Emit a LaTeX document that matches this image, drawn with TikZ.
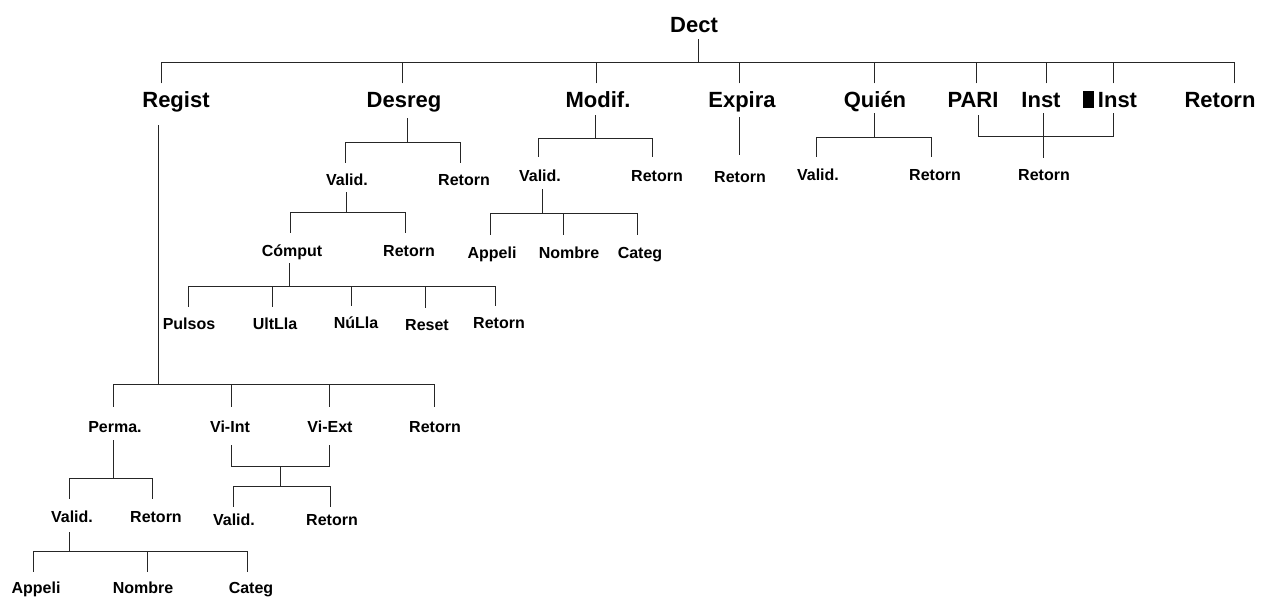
\documentclass[tikz,border=0pt]{standalone}
\usepackage{fontspec}
\setmainfont{Liberation Sans}
\begin{document}
\begin{tikzpicture}[x=1pt,y=1pt,
  big/.style={font=\fontsize{22}{26}\selectfont\bfseries, inner sep=0pt, text height=15.75pt, text depth=0pt},
  small/.style={font=\fontsize{16}{19}\selectfont\bfseries, inner sep=0pt, text height=11.5pt, text depth=0pt},
  link/.style={draw=black!85, line width=0.9pt}]
\useasboundingbox (0,0) rectangle (1270,-598);

% ---------- nodes ----------
\node[big] (Dect) at (694,-24.5) {Dect};
\node[big] (Regist) at (176,-99.5) {Regist};
\node[big] (Desreg) at (404,-99.5) {Desreg};
\node[big] (Modif) at (598,-99.5) {Modif.};
\node[big] (Expira) at (742,-99.5) {Expira};
\node[big] (Quien) at (875,-99.5) {Quién};
\node[big] (PARI) at (973,-99.5) {PARI};
\node[big] (Inst) at (1041,-99.5) {Inst};
\node[big] (InstB) at (1110,-99.5) {\rule[-0.5pt]{11pt}{16.7pt}\hspace{4pt}Inst};
\node[big] (RetT) at (1220,-99.5) {Retorn};

% Desreg subtree
\node[small] (DValid) at (347,-180) {Valid.};
\node[small] (DRet) at (464,-180) {Retorn};
\node[small] (DComput) at (292,-251) {Cómput};
\node[small] (DRetB) at (409,-251) {Retorn};
\node[small] (Pulsos) at (189,-324) {Pulsos};
\node[small] (UltLla) at (275,-324) {UltLla};
\node[small] (NuLla) at (356,-323) {NúLla};
\node[small] (Reset) at (427,-325) {Reset};
\node[small] (DRetC) at (499,-323) {Retorn};

% Modif subtree
\node[small] (MValid) at (540,-176) {Valid.};
\node[small] (MRet) at (657,-176) {Retorn};
\node[small] (MAppeli) at (492,-253) {Appeli};
\node[small] (MNombre) at (569,-253) {Nombre};
\node[small] (MCateg) at (640,-253) {Categ};

% Expira, Quien, Inst
\node[small] (ERet) at (740,-177) {Retorn};
\node[small] (QValid) at (818,-175) {Valid.};
\node[small] (QRet) at (935,-175) {Retorn};
\node[small] (IRet) at (1044,-175) {Retorn};

% Regist subtree
\node[small] (Perma) at (115,-427) {Perma.};
\node[small] (ViInt) at (230,-427) {Vi-Int};
\node[small] (ViExt) at (330,-427) {Vi-Ext};
\node[small] (RRet) at (435,-427) {Retorn};
\node[small] (PValid) at (72,-517) {Valid.};
\node[small] (PRet) at (156,-517) {Retorn};
\node[small] (PAppeli) at (36,-588) {Appeli};
\node[small] (PNombre) at (143,-588) {Nombre};
\node[small] (PCateg) at (251,-588) {Categ};
\node[small] (VValid) at (234,-520) {Valid.};
\node[small] (VRet) at (332,-520) {Retorn};

% ---------- connectors ----------
% Dect
\draw[link] ([xshift=4pt,yshift=-6.8pt]Dect.south) -- ++(0,-23) coordinate (jDect);
\foreach \n/\d in {Regist/-15,Desreg/-2,Modif/-2,Expira/-3,Quien/-1,PARI/3,Inst/5,InstB/3,RetT/14}
  \draw[link] ([xshift=\d pt,yshift=8pt]\n.north) |- (jDect);

% Regist
\draw[link] ([xshift=-18pt,yshift=-17.8pt]Regist.south) -- ++(0,-259) coordinate (jReg);
\foreach \n/\d in {Perma/-2,ViInt/1,ViExt/-1,RRet/-1}
  \draw[link] ([xshift=\d pt,yshift=14.25pt]\n.north) |- (jReg);

% Perma
\draw[link] ([xshift=-2pt,yshift=-7.25pt]Perma.south) -- ++(0,-38) coordinate (jPer);
\foreach \n/\d in {PValid/-3,PRet/-4}
  \draw[link] ([xshift=\d pt,yshift=12.25pt]\n.north) |- (jPer);

% Perma / Valid.
\draw[link] ([xshift=-3pt,yshift=-9.25pt]PValid.south) -- ++(0,-19) coordinate (jPV);
\foreach \n/\d in {PAppeli/-3,PNombre/4,PCateg/-4}
  \draw[link] ([xshift=\d pt,yshift=10.25pt]\n.north) |- (jPV);

% Vi-Int / Vi-Ext
\coordinate (jVi) at (280,-466);
\draw[link] ([xshift=1pt,yshift=-12.25pt]ViInt.south) |- (jVi);
\draw[link] ([xshift=-1pt,yshift=-12.25pt]ViExt.south) |- (jVi);
\draw[link] (jVi) -- ++(0,-20) coordinate (jViB);
\foreach \n/\d in {VValid/-1,VRet/-2}
  \draw[link] ([xshift=\d pt,yshift=7.25pt]\n.north) |- (jViB);

% Desreg
\draw[link] ([xshift=3pt,yshift=-10.8pt]Desreg.south) -- ++(0,-24) coordinate (jDes);
\foreach \n/\d in {DValid/-2,DRet/-4}
  \draw[link] ([xshift=\d pt,yshift=11.25pt]\n.north) |- (jDes);
\draw[link] ([xshift=-1pt,yshift=-6.25pt]DValid.south) -- ++(0,-20) coordinate (jDV);
\foreach \n/\d in {DComput/-2,DRetB/-4}
  \draw[link] ([xshift=\d pt,yshift=12.25pt]\n.north) |- (jDV);
\draw[link] ([xshift=-3pt,yshift=-6.25pt]DComput.south) -- ++(0,-23) coordinate (jDC);
\foreach \n/\d in {Pulsos/-1,UltLla/-3,NuLla/-5,Reset/-2,DRetC/-4}
  \draw[link] ([xshift=\d pt,yshift=11.25pt]\n.north) |- (jDC);

% Modif
\draw[link] ([xshift=-3pt,yshift=-7.8pt]Modif.south) -- ++(0,-23) coordinate (jMod);
\foreach \n/\d in {MValid/-2,MRet/-5}
  \draw[link] ([xshift=\d pt,yshift=13.25pt]\n.north) |- (jMod);
\draw[link] ([xshift=2pt,yshift=-7.25pt]MValid.south) -- ++(0,-24) coordinate (jMV);
\foreach \n/\d in {MAppeli/-2,MNombre/-6,MCateg/-3}
  \draw[link] ([xshift=\d pt,yshift=12.25pt]\n.north) |- (jMV);

% Expira
\draw[link] ([xshift=-3pt,yshift=-9.8pt]Expira.south) -- ([xshift=-1pt,yshift=16.25pt]ERet.north);

% Quien
\draw[link] ([xshift=-1pt,yshift=-5.8pt]Quien.south) -- ++(0,-24) coordinate (jQ);
\foreach \n/\d in {QValid/-2,QRet/-4}
  \draw[link] ([xshift=\d pt,yshift=12.25pt]\n.north) |- (jQ);

% PARI / Inst / Inst
\draw[link] ([xshift=5pt,yshift=-7.8pt]PARI.south) -- ++(0,-21) coordinate (jPI);
\draw[link] ([xshift=3pt,yshift=-5.8pt]InstB.south) |- (jPI);
\draw[link] ([xshift=2pt,yshift=-5.8pt]Inst.south) -- ([xshift=-1pt,yshift=11.25pt]IRet.north);
\end{tikzpicture}
\end{document}
